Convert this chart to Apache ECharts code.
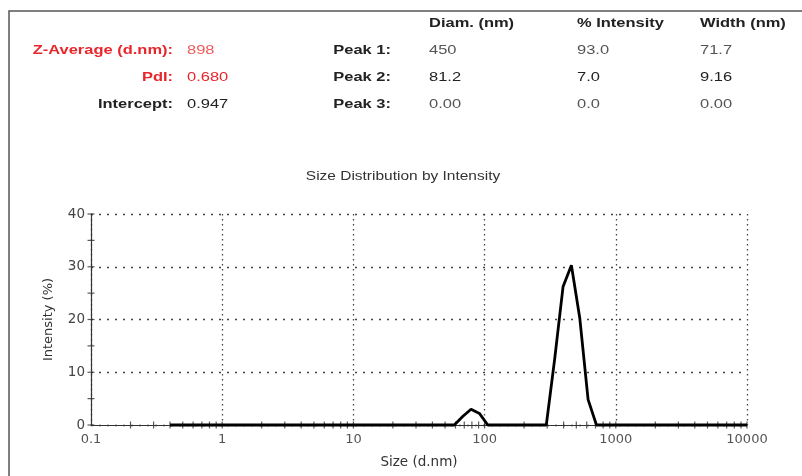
<!DOCTYPE html>
<html><head><meta charset="utf-8">
<script src="https://cdn.jsdelivr.net/npm/echarts@6/dist/echarts.min.js"></script>
<style>html,body{margin:0;padding:0;background:#fff}#c{width:802px;height:476px}</style>
</head><body><div id="c"></div>
<script>
// Size bins (d.nm) and intensity (%)
const sizes = [0.4,0.4632,0.5365,0.6213,0.7195,0.8332,0.9649,1.117,1.294,1.499,1.736,2.010,2.328,2.696,3.122,3.615,4.187,4.849,5.615,6.503,7.531,8.721,10.10,11.70,13.54,15.69,18.17,21.04,24.36,28.21,32.67,37.84,43.82,50.75,58.77,68.06,78.82,91.28,105.7,122.4,141.8,164.2,190.1,220.2,255.0,295.3,342.0,396.1,458.7,531.2,615.1,712.4,825.0,955.4,1106,1281,1484,1718,1990,2305,2669,3091,3580,4145,4801,5560,6439,7456,8635,10000];
const intensity = [0,0,0,0,0,0,0,0,0,0,0,0,0,0,0,0,0,0,0,0,0,0,0,0,0,0,0,0,0,0,0,0,0,0,0,1.6,3.0,2.2,0,0,0,0,0,0,0,0,12.5,26.2,30.3,20.3,4.8,0,0,0,0,0,0,0,0,0,0,0,0,0,0,0,0,0,0,0];
const xTickValues = [0.2,0.3,0.4,0.5,0.6,0.7,0.8,0.9,1,2,3,4,5,6,7,8,9,10,20,30,40,50,60,70,80,90,100,200,300,400,500,600,700,800,900,1000,2000,3000,4000,5000,6000,7000,8000,9000,10000];
const yTickValues = [0,5,10,15,20,25,30,35,40];
const headerCols = ['Diam. (nm)','% Intensity','Width (nm)'];
const peakLabels = ['Peak 1:','Peak 2:','Peak 3:'];
const peakDiam = ['450','81.2','0.00'];
const peakInt = ['93.0','7.0','0.0'];
const peakWidth = ['71.7','9.16','0.00'];
const summaryLabels = ['Z-Average (d.nm):','PdI:','Intercept:'];
const summaryValues = ['898','0.680','0.947'];
const chartTitle = 'Size Distribution by Intensity';

const chart = echarts.init(document.getElementById('c'), null, {renderer:'canvas'});
const FONT = '"Liberation Sans", Arial, sans-serif';
const AXF = '"DejaVu Sans", sans-serif';
const SX = 1.22;
const rowY = [50, 77, 104];
const gfx = [];
gfx.push({type:'polyline', shape:{points:[[9,476],[9,11],[802,11]]}, style:{stroke:'#555', lineWidth:1.5, fill:null}});
function txt(x, y, s, bold, color, align){
  gfx.push({type:'text', x:x, y:y, scaleX:SX, style:{text:s, font:(bold?'bold ':'')+'13.5px '+FONT, fill:color, align:align, verticalAlign:'middle'}});
}
const sumLabColors = ['#e8262b','#e8262b','#222'];
const sumValColors = ['#f05a5a','#e8262b','#222'];
for (let i=0;i<3;i++){
  txt(173, rowY[i], summaryLabels[i], true, sumLabColors[i], 'right');
  txt(187, rowY[i], summaryValues[i], false, sumValColors[i], 'left');
  txt(391, rowY[i], peakLabels[i], true, '#222', 'right');
  const vc = i===1 ? '#222' : '#555';
  txt(429, rowY[i], peakDiam[i], false, vc, 'left');
  txt(577, rowY[i], peakInt[i], false, vc, 'left');
  txt(700, rowY[i], peakWidth[i], false, vc, 'left');
}
const colX = [429,577,700];
for (let j=0;j<3;j++) txt(colX[j], 23, headerCols[j], true, '#222', 'left');
gfx.push({type:'text', x:403, y:176, scaleX:1.19, style:{text:chartTitle, font:'13px '+FONT, fill:'#333', align:'center', verticalAlign:'middle'}});

chart.setOption({
  animation:false,
  backgroundColor:'#fff',
  graphic: gfx,
  grid:{left:91, right:55, top:214, bottom:51},
  xAxis:{type:'log', logBase:10, min:0.1, max:10000,
    name:'Size (d.nm)', nameLocation:'middle', nameGap:30,
    nameTextStyle:{fontSize:13.5, color:'#333', fontFamily:AXF},
    axisLine:{lineStyle:{color:'#333', width:1.2}},
    axisTick:{show:false},
    axisLabel:{fontSize:13, color:'#555', margin:8, fontFamily:AXF,
      formatter:function(v){ return v >= 1 ? String(Math.round(v)) : String(Number(v.toPrecision(3))); }},
    splitLine:{show:true, lineStyle:{color:'#444', type:[1.5,3.5], width:1.3}}},
  yAxis:{type:'value', min:0, max:40, interval:10,
    name:'Intensity (%)', nameLocation:'middle', nameGap:36, nameRotate:90,
    nameTextStyle:{fontSize:13, color:'#333', fontFamily:AXF},
    axisLine:{show:true, lineStyle:{color:'#333', width:1.2}},
    axisTick:{show:false},
    axisLabel:{fontSize:13.5, color:'#444', margin:6, fontFamily:AXF},
    splitLine:{show:true, lineStyle:{color:'#444', type:[2,6], width:1.3}}},
  series:[
    {type:'scatter', data:xTickValues.map(v=>[v,0]), symbol:'rect', symbolSize:[1.2,7], itemStyle:{color:'#333'}, silent:true, clip:false, z:3},
    {type:'scatter', data:yTickValues.map(v=>[0.1,v]), symbol:'rect', symbolSize:[7,1.2], itemStyle:{color:'#333'}, silent:true, clip:false, z:3},
    {type:'line', data:sizes.map((s,i)=>[s,intensity[i]]), showSymbol:false, symbol:'none', clip:false,
     lineStyle:{color:'#000', width:2.8}, z:5}
  ]
});
</script></body></html>
